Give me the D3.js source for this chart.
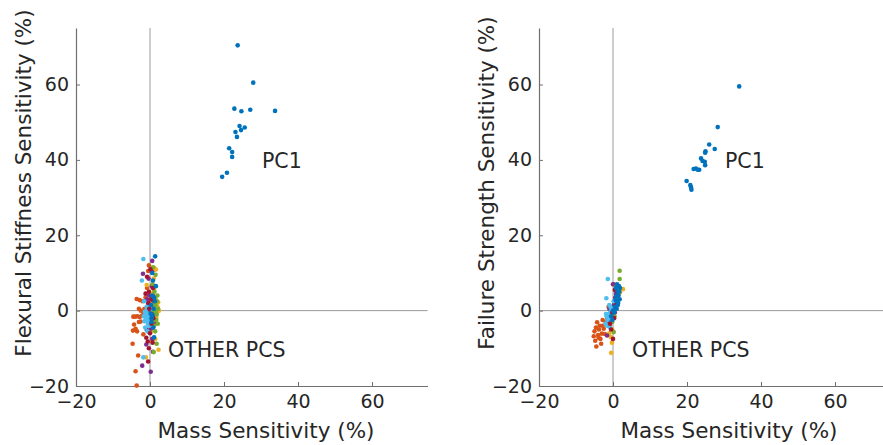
<!DOCTYPE html>
<html>
<head>
<meta charset="utf-8">
<script src="https://cdn.jsdelivr.net/npm/d3@7"></script>
<style>
  html, body { margin: 0; padding: 0; background: #fff; }
  svg { display: block; font-family: "DejaVu Sans", Verdana, sans-serif; }
</style>
</head>
<body>
<svg id="chart" width="883" height="445"></svg>
<script>
// ---------- data ----------
const xTicks = [-20, 0, 20, 40, 60];
const yTicks = [-20, 0, 20, 40, 60];
const xDomain = [-20, 75];
const yDomain = [-20, 75];
const xLabel = "Mass Sensitivity (%)";
const yLabelLeft = "Flexural Stiffness Sensitivity (%)";
const yLabelRight = "Failure Strength Sensitivity (%)";
const colors = ["#0072BD", "#D95319", "#EDB120", "#7E2F8E", "#77AC30", "#4DBEEE", "#A2142F"];

// Left panel
const leftPC1 = [[23.7,70.4],[27.9,60.5],[22.8,53.6],[24.7,52.9],[27.1,53.3],[33.8,53.0],[24.2,49.0],[25.6,48.6],[24.6,47.9],[23.1,47.4],[23.5,46.1],[21.4,43.1],[22.2,42.1],[22.2,40.8],[20.8,36.6],[19.5,35.5]];
const leftOrange = [[-4.5,-1.6],[-4.0,-1.6],[-3.4,-1.5],[-2.8,-1.7],[-2.2,-1.4],[-4.3,-3.7],[-4.6,-5.3],[-3.5,-5.5],[-3.9,-4.8],[-4.7,-8.8],[-3.2,-11.9],[-3.9,-16.1],[-3.6,-19.9],[-3.6,3.1],[-2.8,2.8],[-2.0,2.5],[-1.2,3.5],[-0.5,10.5],[0.4,11.2],[1.0,10.8],[-0.3,12.0],[0.8,4.0],[-1.5,0.5],[-2.5,-2.9],[-1.8,-6.3],[-3.0,-3.0],[0.2,-0.5],[-0.8,6.0],[-2.5,0.0],[-1.8,-0.5],[-3.0,0.5]];
const leftYellow = [[1.2,11.3],[1.6,10.9],[-0.9,6.8],[1.5,3.0],[1.8,2.0],[2.0,1.0],[1.3,0.0],[0.8,-1.0],[1.0,-2.5],[-1.1,-12.4],[0.3,-5.5],[2.3,-10.4],[-0.5,-1.5],[0.5,4.5],[1.9,-0.5],[0.2,2.0],[-0.3,-3.5],[1.1,5.5],[2.2,2.2],[1.7,-1.8],[2.4,0.0],[1.0,8.5],[0.6,-8.0],[1.4,-7.5]];
const leftPurple = [[0.6,13.2],[-1.9,9.8],[-0.4,8.5],[0.5,6.5],[-0.2,4.0],[0.3,1.0],[-0.6,-0.5],[0.2,-4.8],[0.8,-10.9],[-2.1,-14.6],[0.2,-16.2],[0.0,-2.5],[1.0,2.5],[-0.8,3.0],[0.6,-7.5],[-1.0,-9.0],[0.4,10.5],[-0.3,-1.2],[0.9,0.0],[-0.5,1.8],[1.2,-3.5],[-0.9,-5.0]];
const leftGreen = [[1.0,1.0],[1.4,3.0],[1.6,0.0],[0.9,-2.0],[1.2,5.0],[1.8,-1.0],[0.7,7.0],[1.5,9.5],[1.8,-8.8],[1.1,-4.0],[0.5,-0.5],[1.3,2.0],[2.0,4.0],[0.8,11.5],[1.0,-11.0],[0.6,-3.0],[1.5,1.5],[1.9,2.5],[1.2,-0.5],[2.2,0.5],[1.7,-2.5],[0.9,3.5],[1.4,-5.5],[2.1,-3.5]];
const leftCyan = [[-1.8,13.7],[-2.2,8.0],[-1.2,-1.0],[-0.8,-2.0],[-1.5,-2.8],[-0.6,-3.5],[-1.0,0.0],[-0.5,-1.5],[-1.8,-12.4],[-0.3,1.5],[-1.3,-4.5],[0.2,-2.5],[-0.9,-0.8],[0.4,0.5],[-1.6,2.5],[-0.7,-5.5],[-1.1,-2.2],[-0.4,-3.0],[-1.4,-0.3],[-0.2,-4.0],[-0.9,1.0],[-1.7,-1.5],[0.0,-1.0]];
const leftRed = [[0.1,11.0],[-0.8,9.0],[-0.3,5.0],[0.3,3.0],[-1.2,4.5],[-0.6,-8.2],[0.7,-8.5],[-0.3,-10.0],[-0.5,-13.5],[0.0,-6.0],[0.5,-1.0],[-0.2,0.5],[0.8,6.0],[-1.0,-7.2],[0.4,-3.5],[-0.4,2.0],[0.9,-2.0]];
const leftBlue = [[1.4,14.4],[1.1,-7.1],[0.6,4.0],[1.0,0.5],[0.4,-2.0],[1.3,2.5],[0.8,8.0],[0.2,-0.8],[1.6,6.5],[0.9,-4.5],[0.3,1.5],[0.7,-1.2],[1.1,3.5],[0.4,-3.0],[0.6,10.0]];

// Right panel
const rightPC1 = [[34.1,59.5],[28.3,48.7],[26.0,44.1],[27.5,42.9],[25.0,42.3],[24.9,41.9],[23.8,40.4],[24.2,39.7],[24.8,39.5],[24.9,38.6],[21.8,37.6],[22.4,37.7],[22.9,37.4],[23.3,37.4],[19.9,34.4],[20.9,33.3],[21.2,32.1],[21.1,32.7]];
const rightOrange = [[-4.3,-3.1],[-5.2,-6.8],[-4.5,-9.5],[-3.4,-7.5],[-3.0,-6.1],[-2.5,-4.8],[-3.8,-5.0],[-2.0,-3.0],[-4.8,-8.0],[-3.6,-4.0],[-2.8,-2.5],[-1.5,-2.0],[-4.0,-6.5],[-5.0,-5.5],[-3.2,-8.8],[0.2,7.0],[-2.2,-6.2],[-1.2,1.0],[-3.9,-7.2],[-2.8,-4.0],[-4.6,-4.5]];
const rightYellow = [[-0.5,-11.2],[-0.3,-8.5],[-0.8,-4.0],[-0.5,-2.0],[0.0,0.0],[0.4,2.0],[0.8,3.5],[1.2,5.0],[2.7,5.7],[-1.0,-6.0],[0.2,-1.0],[1.5,6.5],[-0.2,-5.0],[0.6,1.0],[0.9,4.5],[1.9,4.8],[-0.6,-7.0],[0.3,1.2]];
const rightPurple = [[-1.6,-6.6],[-1.2,-3.5],[-0.8,-1.0],[-0.3,0.5],[0.3,2.5],[0.8,4.5],[0.0,7.0],[-0.5,-3.0],[0.5,-0.5],[-1.0,0.5],[1.0,6.0],[-1.4,-1.8],[-0.9,-2.5],[0.2,1.5],[0.6,3.5]];
const rightGreen = [[1.8,10.6],[1.8,8.4],[0.2,-5.7],[0.8,2.0],[1.2,3.0],[0.4,-1.5],[1.5,5.5],[-0.2,-3.0],[0.6,0.5],[1.0,6.5]];
const rightCyan = [[-1.4,8.4],[-1.8,3.3],[-1.9,-0.9],[-1.5,-2.5],[-0.9,-4.4],[-1.2,-1.0],[-0.6,-2.0],[-1.6,-4.0],[-0.4,0.5],[-1.0,1.5],[0.2,2.5],[-2.0,-3.5],[-1.3,-2.0],[-0.8,-0.5],[-1.7,-1.5],[-0.6,0.8]];
const rightRed = [[0.0,-7.5],[-0.5,-5.0],[0.3,-2.0],[0.8,1.5],[1.2,4.0],[-0.2,-0.5],[0.5,5.5],[-0.8,-3.5]];
const rightBlue = [[0.8,6.0],[1.2,5.0],[1.5,4.0],[1.0,2.5],[1.8,3.0],[0.5,1.0],[1.3,1.5],[0.9,3.8],[1.6,6.5],[0.0,0.0],[-0.5,-1.5],[1.1,7.0],[1.4,2.0],[1.7,5.0],[0.7,2.8],[1.9,6.0],[0.3,-0.5],[-0.2,-2.5],[1.0,0.5]];

// ---------- drawing ----------
const svg = d3.select("#chart");
const axisColor = "#6f6f6f";
const textColor = "#262626";
const crossColor = "#9a9a9a";
const tickFont = 19;
const labelFont = 21.5;
const noteFont = 20.5;

function panel(cfg) {
  const x = d3.scaleLinear().domain(xDomain).range([cfg.left, cfg.left + 351.5]);
  const y = d3.scaleLinear().domain(yDomain).range([386, 28]);
  const g = svg.append("g");

  // crosshair at zero
  g.append("line").attr("x1", x(0)).attr("x2", x(0)).attr("y1", y(yDomain[1])).attr("y2", y(yDomain[0]))
    .attr("stroke", crossColor).attr("stroke-width", 1);
  g.append("line").attr("x1", x(xDomain[0])).attr("x2", x(xDomain[1])).attr("y1", y(0)).attr("y2", y(0))
    .attr("stroke", crossColor).attr("stroke-width", 1);

  // axes
  const xAxis = d3.axisBottom(x).tickValues(xTicks).tickSizeInner(-4).tickSizeOuter(0).tickPadding(9);
  const gx = g.append("g").attr("transform", `translate(0,${y(yDomain[0])})`).call(xAxis);
  const yAxis = d3.axisLeft(y).tickValues(yTicks).tickSizeInner(-4).tickSizeOuter(0).tickPadding(7);
  const gy = g.append("g").attr("transform", `translate(${x(xDomain[0])},0)`).call(yAxis);
  [gx, gy].forEach(a => {
    a.select(".domain").attr("stroke", axisColor).attr("stroke-width", 1.2);
    a.selectAll(".tick line").attr("stroke", axisColor);
    a.selectAll(".tick text").attr("fill", textColor).style("font-size", tickFont + "px")
      .style("font-family", '"DejaVu Sans", Verdana, sans-serif');
  });
  gx.selectAll(".tick text").attr("dy", "0.71em");

  // scatter series
  cfg.series.forEach(s => {
    g.append("g").selectAll("circle").data(s.data).join("circle")
      .attr("cx", d => x(d[0])).attr("cy", d => y(d[1])).attr("r", 2.3)
      .attr("fill", s.color);
  });

  // labels
  g.append("text").attr("x", cfg.left + 190).attr("y", 438).attr("text-anchor", "middle")
    .attr("fill", textColor).style("font-size", labelFont + "px").text(xLabel);
  g.append("text").attr("transform", `translate(${cfg.ylabX},183) rotate(-90)`).attr("text-anchor", "middle")
    .attr("fill", textColor).style("font-size", labelFont + "px").text(cfg.ylabel);

  g.append("text").attr("x", cfg.pcX).attr("y", 168).attr("fill", textColor)
    .style("font-size", noteFont + "px").text("PC1");
  g.append("text").attr("x", cfg.otherX).attr("y", 357).attr("fill", textColor)
    .style("font-size", noteFont + "px").text("OTHER PCS");
}

panel({
  left: 76, ylabel: yLabelLeft, ylabX: 31, pcX: 262, otherX: 168,
  series: [
    {data: leftPC1, color: colors[0]},
    {data: leftOrange, color: colors[1]},
    {data: leftYellow, color: colors[2]},
    {data: leftPurple, color: colors[3]},
    {data: leftGreen, color: colors[4]},
    {data: leftCyan, color: colors[5]},
    {data: leftRed, color: colors[6]},
    {data: leftBlue, color: colors[0]}
  ]
});
panel({
  left: 539, ylabel: yLabelRight, ylabX: 494, pcX: 725, otherX: 632,
  series: [
    {data: rightPC1, color: colors[0]},
    {data: rightOrange, color: colors[1]},
    {data: rightYellow, color: colors[2]},
    {data: rightPurple, color: colors[3]},
    {data: rightGreen, color: colors[4]},
    {data: rightCyan, color: colors[5]},
    {data: rightRed, color: colors[6]},
    {data: rightBlue, color: colors[0]}
  ]
});
</script>
</body>
</html>
